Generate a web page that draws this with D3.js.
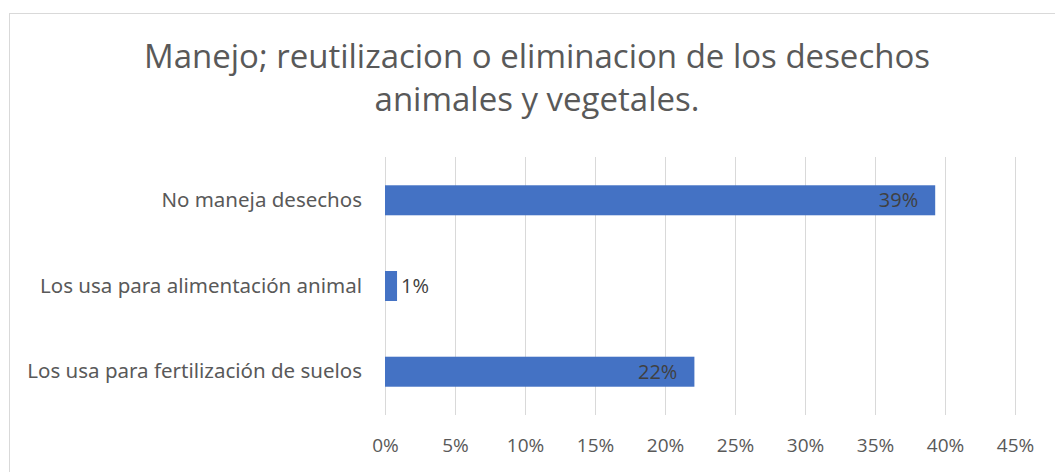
<!DOCTYPE html>
<html>
<head>
<meta charset="utf-8">
<script src="https://cdn.jsdelivr.net/npm/d3@7"></script>
<style>
  body { margin: 0; background: #fff; }
  .grid line { stroke: #d9d9d9; stroke-width: 1; }
  .grid path { display: none; }
  .axis path, .axis line { display: none; }
</style>
</head>
<body>
<div id="chart"></div>
<script>
var categories = ["No maneja desechos", "Los usa para alimentación animal", "Los usa para fertilización de suelos"];
var values = [39.3, 0.86, 22.1];
var labels = ["39%", "1%", "22%"];
var xTicks = [0, 5, 10, 15, 20, 25, 30, 35, 40, 45];
var titleLines = ["Manejo; reutilizacion o eliminacion de los desechos", "animales y vegetales."];

var width = 1055, height = 472;
var margin = { top: 157, right: 40, bottom: 57, left: 385 };

var svg = d3.select("#chart")
  .append("svg")
  .attr("width", width)
  .attr("height", height);

// chart border
svg.append("rect")
  .attr("x", 9.5)
  .attr("y", 13.5)
  .attr("width", 1100)
  .attr("height", 520)
  .attr("fill", "none")
  .attr("stroke", "#d9d9d9");

var xScale = d3.scaleLinear()
  .domain([0, 45])
  .range([margin.left, margin.left + 630]);

var yScale = d3.scaleBand()
  .domain(categories)
  .range([margin.top, height - margin.bottom])
  .paddingInner(0.65)
  .paddingOuter(0.33);

// title
svg.selectAll(".title")
  .data(titleLines)
  .enter().append("text")
  .attr("class", "title")
  .attr("x", 537)
  .attr("y", function(d, i) { return 68 + i * 43; })
  .attr("text-anchor", "middle")
  .style("font-family", "'Open Sans', sans-serif")
  .style("font-size", "33px")
  .style("fill", "#595959")
  .text(function(d) { return d; });

// vertical gridlines
svg.append("g")
  .attr("class", "grid")
  .attr("transform", "translate(0," + (height - margin.bottom) + ")")
  .call(d3.axisBottom(xScale)
    .tickValues(xTicks)
    .tickSize(-(height - margin.bottom - margin.top))
    .tickFormat(""));

// x axis labels
svg.append("g")
  .attr("class", "axis")
  .attr("transform", "translate(0," + (height - margin.bottom) + ")")
  .call(d3.axisBottom(xScale)
    .tickValues(xTicks)
    .tickSize(0)
    .tickPadding(24)
    .tickFormat(function(d) { return d + "%"; }))
  .selectAll("text")
  .style("font-family", "'Open Sans', sans-serif")
  .style("font-size", "19px")
  .style("fill", "#595959");

// y axis labels
svg.append("g")
  .attr("class", "axis")
  .attr("transform", "translate(" + margin.left + ",0)")
  .call(d3.axisLeft(yScale).tickSize(0).tickPadding(23))
  .selectAll("text")
  .style("font-family", "'Noto Sans', sans-serif")
  .style("font-size", "20.5px")
  .style("fill", "#595959");

// bars
svg.selectAll(".bar")
  .data(values)
  .enter().append("rect")
  .attr("class", "bar")
  .attr("x", xScale(0))
  .attr("y", function(d, i) { return yScale(categories[i]); })
  .attr("width", function(d) { return xScale(d) - xScale(0); })
  .attr("height", yScale.bandwidth())
  .attr("fill", "#4472c4");

// data labels
svg.selectAll(".dlabel")
  .data(values)
  .enter().append("text")
  .attr("class", "dlabel")
  .attr("x", function(d) { return d < 5 ? xScale(d) + 4 : xScale(d) - 17; })
  .attr("y", function(d, i) { return yScale(categories[i]) + yScale.bandwidth() / 2; })
  .attr("dy", "0.36em")
  .attr("text-anchor", function(d) { return d < 5 ? "start" : "end"; })
  .style("font-family", "'Open Sans', sans-serif")
  .style("font-size", "20px")
  .style("fill", "#404040")
  .text(function(d, i) { return labels[i]; });
</script>
</body>
</html>
